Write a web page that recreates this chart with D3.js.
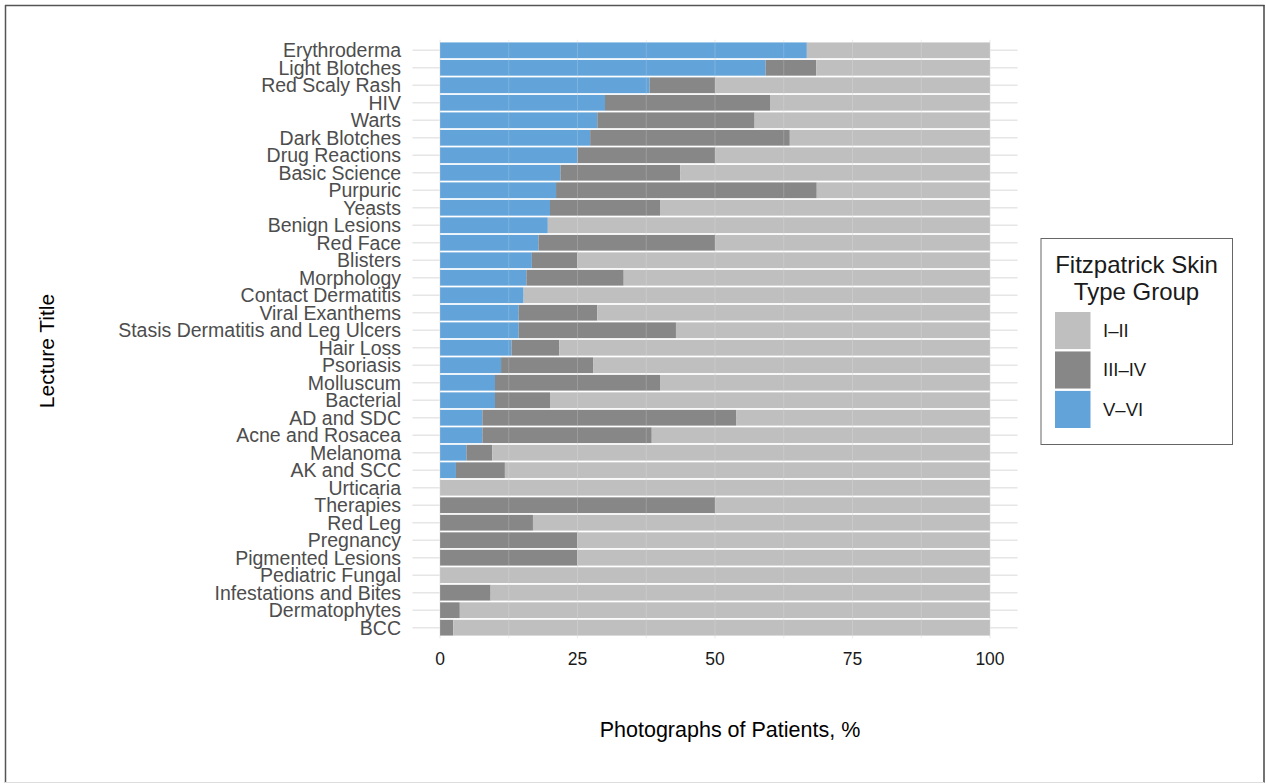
<!DOCTYPE html>
<html><head><meta charset="utf-8">
<script src="https://cdn.jsdelivr.net/npm/d3@7"></script>
<style>html,body{margin:0;padding:0;background:#fff;}svg{display:block;font-family:"Liberation Sans",Arial,Helvetica,sans-serif;}</style>
</head><body>
<svg id="chart" width="1266" height="784"></svg>
<script>
const categories = ["Erythroderma","Light Blotches","Red Scaly Rash","HIV","Warts","Dark Blotches","Drug Reactions","Basic Science","Purpuric","Yeasts","Benign Lesions","Red Face","Blisters","Morphology","Contact Dermatitis","Viral Exanthems","Stasis Dermatitis and Leg Ulcers","Hair Loss","Psoriasis","Molluscum","Bacterial","AD and SDC","Acne and Rosacea","Melanoma","AK and SCC","Urticaria","Therapies","Red Leg","Pregnancy","Pigmented Lesions","Pediatric Fungal","Infestations and Bites","Dermatophytes","BCC"];
const typeV_VI   = [66.7,59.2,38.1,30.0,28.6,27.3,25.0,21.9,21.1,20.0,19.6,17.9,16.7,15.7,15.2,14.3,14.3,13.0,11.1,10.0,10.0,7.7,7.7,4.8,2.9,0,0,0,0,0,0,0,0,0];
const typeIII_IV = [0,9.2,11.9,30.0,28.6,36.3,25.0,21.8,47.4,20.0,0,32.1,8.3,17.7,0,14.3,28.6,8.7,16.8,30.0,10.0,46.2,30.8,4.7,8.9,0,50.0,16.9,25.0,25.0,0,9.2,3.6,2.4];
const typeI_II   = [33.3,31.6,50.0,40.0,42.8,36.4,50.0,56.3,31.5,60.0,80.4,50.0,75.0,66.6,84.8,71.4,57.1,78.3,72.1,60.0,80.0,46.1,61.5,90.5,88.2,100,50.0,83.1,75.0,75.0,100,90.8,96.4,97.6];
const xTicks = [0,25,50,75,100];
const groupKeys = ["V_VI","III_IV","I_II"];
const legendLabels = ["I\u2013II","III\u2013IV","V\u2013VI"];
const legendKeys = ["I_II","III_IV","V_VI"];
const colors = {I_II:"#bfbfbf", III_IV:"#878787", V_VI:"#62a3d9"};

const rows = categories.map((c,i)=>({cat:c, V_VI:typeV_VI[i], III_IV:typeIII_IV[i], I_II:typeI_II[i]}));
const svg = d3.select("#chart");

// frame
svg.append("line").attr("x1",5.5).attr("y1",5).attr("x2",5.5).attr("y2",783).attr("stroke","#555").attr("stroke-width",1.5);
svg.append("line").attr("x1",5).attr("y1",5.5).attr("x2",1264.5).attr("y2",5.5).attr("stroke","#555").attr("stroke-width",1.5);
svg.append("line").attr("x1",1264).attr("y1",5).attr("x2",1264).attr("y2",783).attr("stroke","#444").attr("stroke-width",1.5);
svg.append("line").attr("x1",5).attr("y1",782.5).attr("x2",1264.5).attr("y2",782.5).attr("stroke","#ddd").attr("stroke-width",1);

const panel = {left:412.5, right:1017.5, top:39.8, bottom:638.2};
const x = d3.scaleLinear().domain([-5,105]).range([panel.left, panel.right]);
const y = d3.scaleBand().domain(categories).range([panel.top, panel.bottom]).paddingInner(0.1).paddingOuter(0.15);

const grid = svg.append("g");
const vgrid = d3.range(0,101,12.5);
grid.selectAll(".vg").data(vgrid).join("line")
  .attr("x1",d=>x(d)).attr("x2",d=>x(d)).attr("y1",panel.top).attr("y2",panel.bottom)
  .attr("stroke","#ebebeb").attr("stroke-width",d=>d%25===0?1.2:0.8);
grid.selectAll(".hg").data(categories).join("line")
  .attr("x1",panel.left).attr("x2",panel.right)
  .attr("y1",d=>y(d)+y.bandwidth()/2).attr("y2",d=>y(d)+y.bandwidth()/2)
  .attr("stroke","#e6e6e6").attr("stroke-width",1.5);

const stack = d3.stack().keys(groupKeys)(rows);
svg.append("g").selectAll("g").data(stack).join("g")
  .attr("fill",d=>colors[d.key])
  .selectAll("rect").data(d=>d).join("rect")
  .attr("x",d=>x(d[0])).attr("width",d=>Math.max(0,x(d[1])-x(d[0])))
  .attr("y",d=>y(d.data.cat)).attr("height",y.bandwidth());

svg.append("g").selectAll("line").data(vgrid).join("line")
  .attr("x1",d=>x(d)).attr("x2",d=>x(d)).attr("y1",panel.top).attr("y2",panel.bottom)
  .attr("stroke","#ffffff").attr("stroke-opacity",0.18).attr("stroke-width",1);

svg.append("g").selectAll("text").data(categories).join("text")
  .attr("x",401).attr("y",d=>y(d)+y.bandwidth()/2).attr("dy","0.35em")
  .attr("text-anchor","end").attr("font-size",19.5).attr("fill","#4d4d4d").text(d=>d);

svg.append("g").selectAll("text").data(xTicks).join("text")
  .attr("x",d=>x(d)).attr("y",659).attr("dy","0.35em")
  .attr("text-anchor","middle").attr("font-size",17.5).attr("fill","#1a1a1a").text(d=>d);

svg.append("text").attr("x",730).attr("y",729).attr("dy","0.35em").attr("text-anchor","middle")
  .attr("font-size",21.5).attr("fill","#000").text("Photographs of Patients, %");
svg.append("text").attr("transform","translate(47,351) rotate(-90)").attr("dy","0.35em").attr("text-anchor","middle")
  .attr("font-size",21).attr("fill","#000").text("Lecture Title");

const lg = svg.append("g");
lg.append("rect").attr("x",1041).attr("y",238.5).attr("width",191.5).attr("height",206).attr("fill","#fff").attr("stroke","#666").attr("stroke-width",1);
lg.append("text").attr("x",1136.5).attr("y",265).attr("dy","0.35em").attr("text-anchor","middle").attr("font-size",24).attr("fill","#1a1a1a").text("Fitzpatrick Skin");
lg.append("text").attr("x",1136.5).attr("y",292).attr("dy","0.35em").attr("text-anchor","middle").attr("font-size",24).attr("fill","#1a1a1a").text("Type Group");
const ly = d3.scaleBand().domain(legendKeys).range([312,428]).paddingInner(0.06);
lg.selectAll(".key").data(legendKeys).join("rect")
  .attr("x",1055).attr("y",d=>ly(d)).attr("width",35.5).attr("height",ly.bandwidth())
  .attr("fill",d=>colors[d]);
lg.selectAll(".lab").data(legendKeys).join("text")
  .attr("x",1103).attr("y",d=>ly(d)+ly.bandwidth()/2).attr("dy","0.35em")
  .attr("font-size",18.5).attr("fill","#1a1a1a").text((d,i)=>legendLabels[i]);
</script>
</body></html>
